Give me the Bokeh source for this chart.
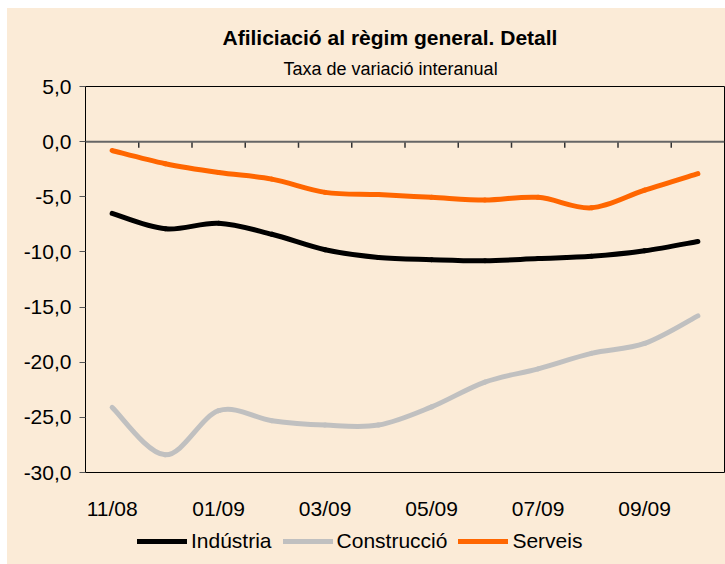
import numpy as np
from bokeh.plotting import figure
from bokeh.layouts import column
from bokeh.models import (Range1d, FixedTicker, Legend, LegendItem, Title,
                          ColumnDataSource, Span)
from bokeh.embed import file_html
from bokeh.resources import INLINE

# ---- data -------------------------------------------------------------
months = ["11/08", "12/08", "01/09", "02/09", "03/09", "04/09",
          "05/09", "06/09", "07/09", "08/09", "09/09", "10/09"]
industria = [-6.5, -7.9, -7.4, -8.4, -9.8, -10.5, -10.7, -10.8, -10.6, -10.4, -9.9, -9.05]
construccio = [-24.1, -28.4, -24.4, -25.3, -25.7, -25.7, -24.05, -21.8, -20.6, -19.2, -18.3, -15.8]
serveis = [-0.8, -2.0, -2.8, -3.4, -4.6, -4.8, -5.05, -5.3, -5.05, -6.0, -4.4, -2.9]
series_names = ["Indústria", "Construcció", "Serveis"]
y_ticks = [5, 0, -5, -10, -15, -20, -25, -30]
y_tick_labels = ["5,0", "0,0", "-5,0", "-10,0", "-15,0", "-20,0", "-25,0", "-30,0"]
title_text = "Afiliciació al règim general. Detall"
subtitle_text = "Taxa de variació interanual"

colors = ["#000000", "#C0C0C0", "#FF6600"]
bg = "#FBEBD7"
FONT = "Liberation Sans"

n = len(months)
xc = np.arange(n) + 0.5
all_series = [industria, construccio, serveis]


def bezier_source(vals):
    y = np.asarray(vals, dtype=float)
    x = xc
    xp = np.concatenate([[x[0]], x, [x[-1]]])
    yp = np.concatenate([[y[0]], y, [y[-1]]])
    t = 1.0 / 6.0
    i = np.arange(n - 1)
    x0, y0 = x[i], y[i]
    x1, y1 = x[i + 1], y[i + 1]
    cx0 = x0 + (xp[i + 2] - xp[i]) * t
    cy0 = y0 + (yp[i + 2] - yp[i]) * t
    cx1 = x1 - (xp[i + 3] - xp[i + 1]) * t
    cy1 = y1 - (yp[i + 3] - yp[i + 1]) * t
    return ColumnDataSource(dict(x0=x0, y0=y0, x1=x1, y1=y1,
                                 cx0=cx0, cy0=cy0, cx1=cx1, cy1=cy1))


p = figure(width=718, height=520, output_backend="svg", toolbar_location=None,
           x_range=Range1d(0, n), y_range=Range1d(-30, 5),
           min_border_left=78, min_border_right=1, min_border_top=78,
           min_border_bottom=56,
           background_fill_color=bg, border_fill_color=bg)
p.grid.visible = False
p.outline_line_color = "#000000"
p.outline_line_width = 1

# y axis
ya = p.yaxis[0]
ya.ticker = FixedTicker(ticks=y_ticks)
ya.major_label_overrides = {t: l for t, l in zip(y_ticks, y_tick_labels)}
ya.major_tick_in = 0
ya.major_tick_out = 6
ya.minor_tick_line_color = None
ya.axis_line_color = "#000000"
ya.major_tick_line_color = "#555555"
ya.major_label_text_font = FONT
ya.major_label_text_font_size = "21px"
ya.major_label_text_color = "#000000"
ya.major_label_standoff = 8

# x axis (labels only, every second month)
xa = p.xaxis[0]
lab_pos = [float(v) for v in xc[::2]]
xa.ticker = FixedTicker(ticks=lab_pos)
xa.major_label_overrides = {pos: m for pos, m in zip(lab_pos, months[::2])}
xa.major_tick_in = 0
xa.major_tick_out = 0
xa.minor_tick_line_color = None
xa.axis_line_color = None
xa.major_label_text_font = FONT
xa.major_label_text_font_size = "21px"
xa.major_label_text_color = "#000000"
xa.major_label_standoff = 24

# zero line with category tick marks
p.add_layout(Span(location=0, dimension="width", line_color="#666666", line_width=2))
bounds = np.arange(1, n)
p.segment(x0=bounds, y0=0, x1=bounds, y1=-0.55, line_color="#333333", line_width=1.5)

# series (smoothed curves through the monthly values)
for vals, col in zip(all_series, colors):
    p.bezier(x0="x0", y0="y0", x1="x1", y1="y1", cx0="cx0", cy0="cy0",
             cx1="cx1", cy1="cy1", source=bezier_source(vals),
             line_color=col, line_width=5, line_cap="round")

p.add_layout(Title(text=subtitle_text, align="left", offset=198, standoff=16,
                   text_font=FONT, text_font_size="18px", text_font_style="normal",
                   text_color="#000000"), "above")
p.add_layout(Title(text=title_text, align="left", offset=137, standoff=0,
                   text_font=FONT, text_font_size="21px", text_font_style="bold",
                   text_color="#000000"), "above")

# legend strip
p2 = figure(width=718, height=36, output_backend="svg", toolbar_location=None,
            x_range=Range1d(0, n), y_range=Range1d(100, 101),
            x_axis_location=None, y_axis_location=None,
            min_border_left=0, min_border_right=0, min_border_top=2, min_border_bottom=0,
            background_fill_color=bg, border_fill_color=bg)
p2.grid.visible = False
p2.outline_line_color = None
items = []
for name, vals, col in zip(series_names, all_series, colors):
    r = p2.line(xc, vals, line_color=col, line_width=5, line_cap="round")
    items.append(LegendItem(label=name, renderers=[r]))
legend = Legend(items=items, orientation="horizontal", location=(52, 11),
                glyph_width=50, glyph_height=24, label_standoff=4, spacing=11,
                padding=0, margin=0, background_fill_alpha=0, border_line_alpha=0,
                label_text_font=FONT, label_text_font_size="21px",
                label_text_color="#000000")
p2.add_layout(legend, "center")

layout = column(p, p2, spacing=0, margin=(8, 0, 0, 7),
                styles={"background-color": bg})
open("out.html", "w").write(file_html(layout, INLINE))
